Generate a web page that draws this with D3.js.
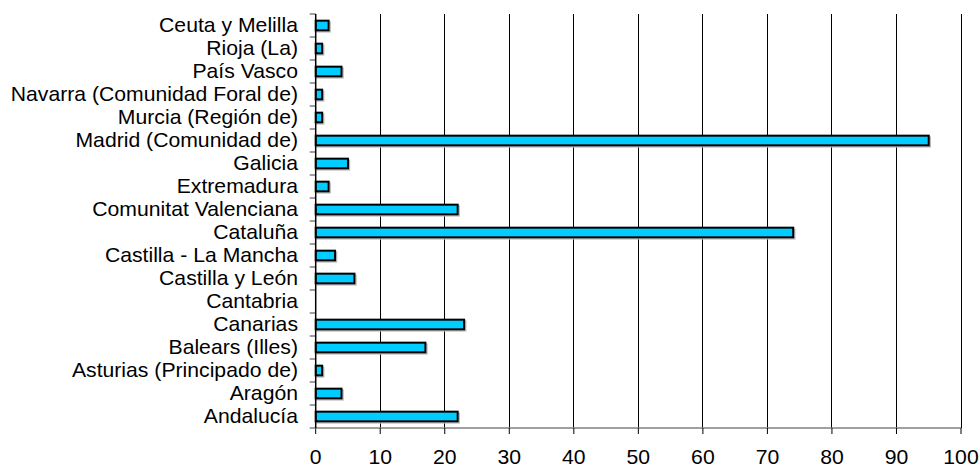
<!DOCTYPE html>
<html>
<head>
<meta charset="utf-8">
<script src="https://cdn.jsdelivr.net/npm/d3@7"></script>
<style>
  html, body { margin: 0; padding: 0; background: #fff; }
  svg { display: block; }
  text { font-family: "Liberation Sans", Arial, sans-serif; fill: #000; }
</style>
</head>
<body>
<svg id="chart" width="979" height="467"></svg>
<script>
// Regions, listed top to bottom as they appear on the chart
const regions = [
  "Ceuta y Melilla",
  "Rioja (La)",
  "País Vasco",
  "Navarra (Comunidad Foral de)",
  "Murcia (Región de)",
  "Madrid (Comunidad de)",
  "Galicia",
  "Extremadura",
  "Comunitat Valenciana",
  "Cataluña",
  "Castilla - La Mancha",
  "Castilla y León",
  "Cantabria",
  "Canarias",
  "Balears (Illes)",
  "Asturias (Principado de)",
  "Aragón",
  "Andalucía"
];
const counts = [2, 1, 4, 1, 1, 95, 5, 2, 22, 74, 3, 6, 0, 23, 17, 1, 4, 22];
const xTicks = [0, 10, 20, 30, 40, 50, 60, 70, 80, 90, 100];

const svg = d3.select("#chart");
const plotLeft = 315.7, plotRight = 961, plotTop = 14, plotBottom = 428;
const textStretch = 1.06; // labels are set slightly wide

const x = d3.scaleLinear().domain([0, 100]).range([plotLeft, plotRight]);
const y = d3.scaleBand().domain(regions).range([plotTop, plotBottom])
  .paddingInner(0.58).paddingOuter(0.29);
const step = y.step();

// vertical gridlines
svg.append("g").selectAll("line")
  .data(xTicks.filter(d => d > 0))
  .join("line")
  .attr("x1", d => x(d)).attr("x2", d => x(d))
  .attr("y1", plotTop).attr("y2", plotBottom)
  .attr("stroke", "#000").attr("stroke-width", 1)
  .attr("shape-rendering", "crispEdges");

// bottom axis
const xAxis = svg.append("g").attr("transform", `translate(0,${plotBottom})`);
xAxis.append("line")
  .attr("x1", plotLeft).attr("x2", plotRight).attr("y1", 0).attr("y2", 0)
  .attr("stroke", "#808080").attr("stroke-width", 1.5);
xAxis.selectAll("line.tick")
  .data(xTicks).join("line").attr("class", "tick")
  .attr("x1", d => x(d)).attr("x2", d => x(d))
  .attr("y1", 0).attr("y2", 6)
  .attr("stroke", "#000").attr("stroke-width", 1);
xAxis.selectAll("text")
  .data(xTicks).join("text")
  .attr("transform", d => `translate(${x(d)},36) scale(${textStretch},1)`)
  .attr("text-anchor", "middle")
  .attr("font-size", 20)
  .text(d => d);

// left axis with ticks between categories
const yAxis = svg.append("g");
yAxis.selectAll("line.tick")
  .data(d3.range(regions.length + 1)).join("line").attr("class", "tick")
  .attr("x1", plotLeft - 6).attr("x2", plotLeft)
  .attr("y1", i => plotTop + i * step).attr("y2", i => plotTop + i * step)
  .attr("stroke", "#808080").attr("stroke-width", 1.5);
yAxis.selectAll("text")
  .data(regions).join("text")
  .attr("transform", d => `translate(298,${y(d) + y.bandwidth() / 2}) scale(${textStretch},1)`)
  .attr("dy", "0.3em")
  .attr("text-anchor", "end")
  .attr("font-size", 20)
  .text(d => d);

// bars with a soft drop shadow
const rows = regions.map((r, i) => ({ region: r, value: counts[i] }));
svg.append("g").selectAll("rect")
  .data(rows.filter(d => d.value > 0)).join("rect")
  .attr("x", x(0) + 1.5)
  .attr("y", d => y(d.region) + 1.5)
  .attr("width", d => x(d.value) - x(0))
  .attr("height", y.bandwidth())
  .attr("fill", "none")
  .attr("stroke", "#b8b8b8").attr("stroke-width", 1.5);
svg.append("g").selectAll("rect")
  .data(rows.filter(d => d.value > 0)).join("rect")
  .attr("x", x(0))
  .attr("y", d => y(d.region))
  .attr("width", d => x(d.value) - x(0))
  .attr("height", y.bandwidth())
  .attr("fill", "#00CCFF")
  .attr("stroke", "#000").attr("stroke-width", 2);

// vertical axis line drawn over the bar bases
svg.append("line")
  .attr("x1", plotLeft).attr("x2", plotLeft).attr("y1", plotTop).attr("y2", plotBottom)
  .attr("stroke", "#000").attr("stroke-width", 1.5);
</script>
</body>
</html>
